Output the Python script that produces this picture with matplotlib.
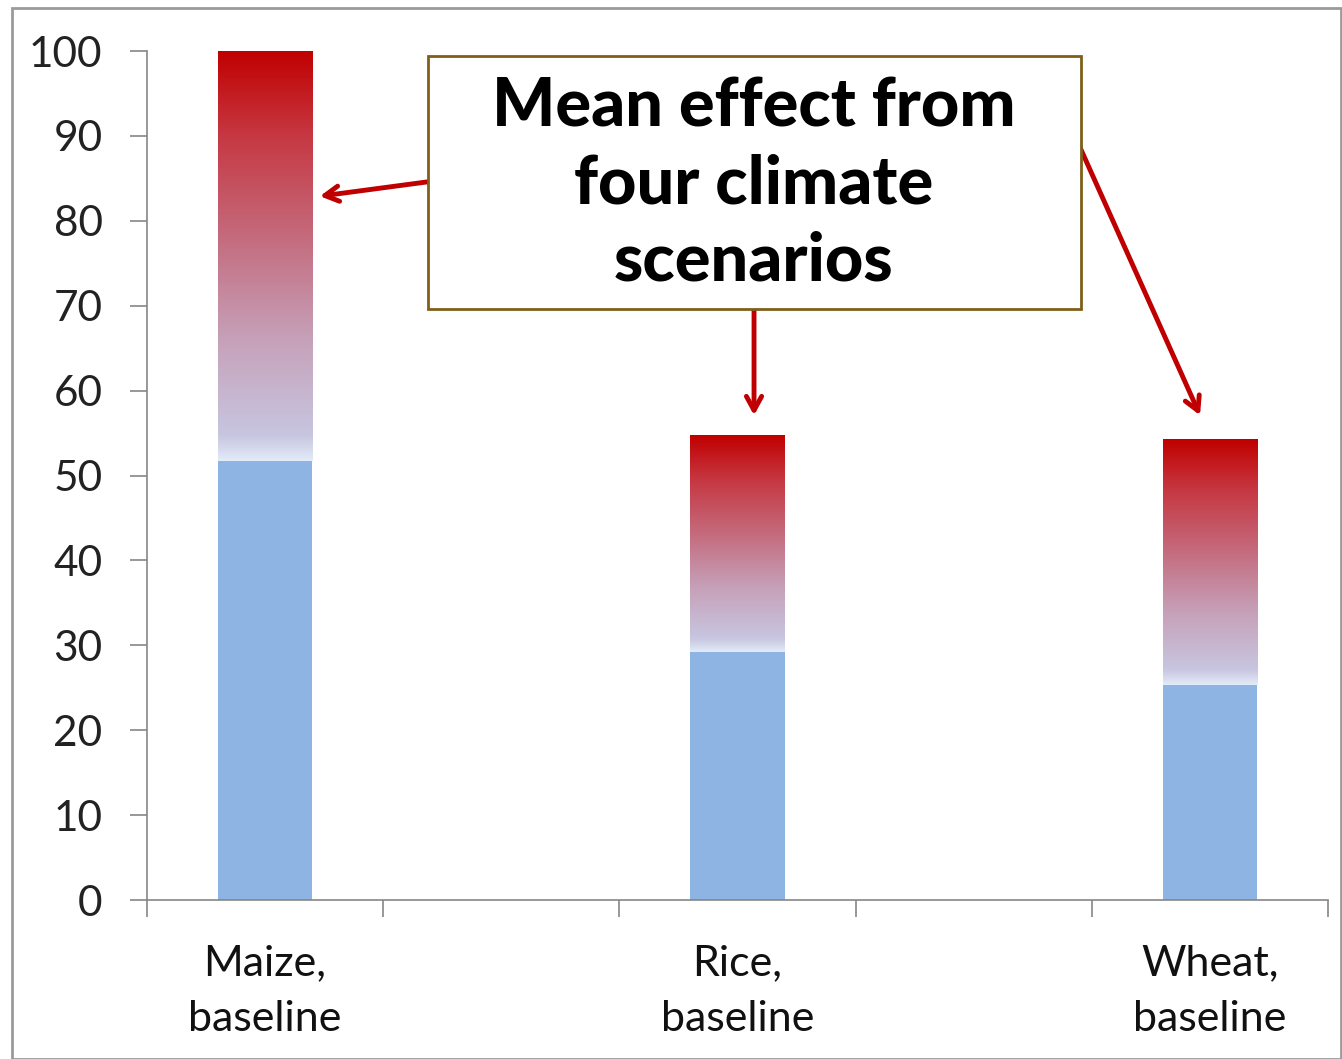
import numpy as np
import matplotlib.pyplot as plt
from matplotlib.colors import LinearSegmentedColormap
from matplotlib.patches import Rectangle

# five slots on the x axis, crops sit in slots 0, 2 and 4
categories = ["Maize,\nbaseline", "", "Rice,\nbaseline", "", "Wheat,\nbaseline"]
bar_slots = [0, 2, 4]
baseline = [51.7, 29.2, 25.3]
with_climate = [100, 54.7, 54.2]

BLUE = "#8db4e2"
RED = "#c00000"

# fade from pale lavender at the baseline up to solid red
effect_cmap = LinearSegmentedColormap.from_list("effect", [
    (0.00, "#e2ebf8"),
    (0.06, "#c8c6e0"),
    (0.30, "#c6a0b8"),
    (0.55, "#c46a7c"),
    (0.80, "#c63640"),
    (1.00, "#c00000"),
])

fig = plt.figure(figsize=(13.42, 10.59), dpi=100)
ax = fig.add_axes([0.1095, 0.1501, 0.8801, 0.8017])

width = 0.4
for x, b, t in zip(bar_slots, baseline, with_climate):
    ax.bar(x, b, width=width, color=BLUE, zorder=2)
    grad = np.linspace(0, 1, 256)[:, None]
    ax.imshow(grad, cmap=effect_cmap, origin="lower", aspect="auto",
              extent=(x - width / 2, x + width / 2, b, t), zorder=2)

ax.set_xlim(-0.5, 4.5)
ax.set_ylim(0, 100)
ax.set_yticks(np.arange(0, 101, 10))
ax.set_xticks(range(len(categories)))
ax.set_xticklabels(categories)
ax.set_xticks(np.arange(-0.5, 4.6, 1), minor=True)

for side in ["top", "right"]:
    ax.spines[side].set_visible(False)
for side in ["left", "bottom"]:
    ax.spines[side].set_color("#868686")
    ax.spines[side].set_linewidth(1.2)

ax.tick_params(axis="y", length=12, width=1.2, color="#868686", pad=20,
               labelsize=30.5, labelcolor="#222222")
ax.tick_params(axis="x", which="major", length=0, pad=32, labelsize=31,
               labelcolor="#111111")
ax.tick_params(axis="x", which="minor", length=12, width=1.2, color="#868686")
for lab in ax.get_xticklabels() + ax.get_yticklabels():
    lab.set_family(["Lato", "DejaVu Sans"])
for lab in ax.get_xticklabels():
    lab.set_linespacing(1.55)

# callout box
fig.patches.append(Rectangle((0.319, 0.7082), 0.4866, 0.2389, transform=fig.transFigure,
                             facecolor="white", edgecolor="#7f5f1a", linewidth=2, zorder=5))
fig.text(0.5615, 0.826, "Mean effect from\nfour climate\nscenarios", ha="center", va="center",
         fontsize=48, fontweight="black", family=["Lato", "DejaVu Sans"],
         linespacing=1.3, zorder=6)

arrow = dict(arrowstyle="->,head_length=1.0,head_width=0.55", color=RED, lw=3.5,
             shrinkA=0, shrinkB=0)
ax.annotate("", xy=(0.232, 82.9), xytext=(0.69, 84.6), arrowprops=arrow, zorder=7)
ax.annotate("", xy=(2.07, 57.1), xytext=(2.07, 69.6), arrowprops=arrow, zorder=7)
ax.annotate("", xy=(3.958, 57.1), xytext=(3.446, 88.9), arrowprops=arrow, zorder=7)

# thin grey frame around the whole chart
fig.patches.append(Rectangle((0.009, 0.0), 0.99, 0.992, transform=fig.transFigure,
                             fill=False, edgecolor="#9a9a9a", linewidth=2))

fig.savefig("out.png", dpi=100)
